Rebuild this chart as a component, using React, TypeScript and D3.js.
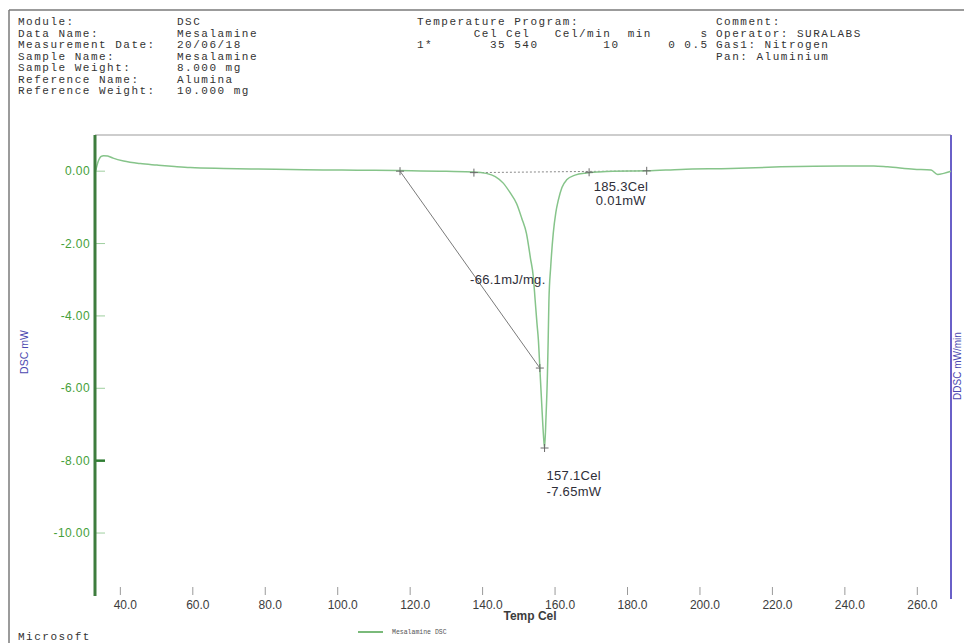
import React from "react";
import * as d3 from "d3";

// ---- Header block ----
const headerLabels = [
  "Module:",
  "Data Name:",
  "Measurement Date:",
  "Sample Name:",
  "Sample Weight:",
  "Reference Name:",
  "Reference Weight:",
];
const headerValues = [
  "DSC",
  "Mesalamine",
  "20/06/18",
  "Mesalamine",
  "8.000 mg",
  "Alumina",
  "10.000 mg",
];
const tempProgramLines = [
  "Temperature Program:",
  "       Cel Cel   Cel/min  min      s",
  "1*       35 540        10      0 0.5",
];
const commentLines = [
  "Comment:",
  "Operator: SURALABS",
  "Gas1: Nitrogen",
  "Pan: Aluminium",
];

// ---- Axes ----
const xDomain: [number, number] = [33.0, 269.3];
const yDomain: [number, number] = [1.0, -11.74];
const xTicks = [40, 60, 80, 100, 120, 140, 160, 180, 200, 220, 240, 260];
const yTicks = [0, -2, -4, -6, -8, -10];

// ---- DSC trace (Temp Cel, mW) ----
const tempCel = [
  33.2, 34.0, 34.6, 35.4, 36.5, 38.0, 40.9, 45.5, 50.1, 55.0, 59.3, 68.5, 78.0,
  87.0, 96.0, 105.4, 116.4, 122.9, 130.0, 137.6, 141.0, 143.5, 145.7, 147.5,
  149.4, 150.8, 152.1, 153.2, 154.0, 154.5, 155.0, 155.4, 155.8, 156.3, 156.8,
  157.1, 157.5, 157.9, 158.1, 158.3, 158.8, 159.5, 160.2, 160.9, 161.9, 163.2,
  165.5, 168.7, 172.0, 176.0, 185.3, 194.7, 208.5, 222.3, 238.9, 248.0, 251.8,
  259.1, 263.8, 265.6, 267.3, 269.3,
];
const dscMw = [
  0.02, 0.3, 0.4, 0.43, 0.42, 0.36, 0.28, 0.21, 0.17, 0.13, 0.1, 0.075, 0.06,
  0.047, 0.035, 0.028, 0.02, 0.005, -0.005, -0.02, -0.06, -0.15, -0.33, -0.58,
  -0.9, -1.3, -1.72, -2.4, -2.92, -3.56, -4.2, -4.67, -5.44, -6.4, -7.3, -7.65,
  -6.8, -5.6, -4.67, -3.6, -2.64, -1.72, -1.15, -0.8, -0.45, -0.24, -0.11,
  -0.05, -0.02, 0.0, 0.01, 0.05, 0.075, 0.12, 0.145, 0.145, 0.12, 0.055, 0.03,
  -0.09, -0.06, 0.0,
];

// ---- Peak analysis ----
const onsetStart = { t: 117.2, v: 0.0 };
const tangentPoint = { t: 155.8, v: -5.44 };
const baselineStart = { t: 137.6, v: -0.04 };
const baselineMid = { t: 169.4, v: -0.03 };
const peak = { t: 157.1, v: -7.65 };
const endPoint = { t: 185.3, v: 0.01 };
const enthalpy = -66.1;

const W = 964;
const H = 643;
const PLOT = { left: 95, right: 951, top: 135, bottom: 596 };

const mono = "'Liberation Mono', 'DejaVu Sans Mono', monospace";
const sans = "'Liberation Sans', Arial, sans-serif";

// plain hyphen-minus, as the instrument software prints it
const fmt = (spec: string) => {
  const f = d3.format(spec);
  return (v: number) => f(v).replace("\u2212", "-");
};
const f1 = fmt(".1f");
const f2 = fmt(".2f");

function Cross({ x, y }: { x: number; y: number }) {
  return (
    <g stroke="#6b6b6b" strokeWidth={1}>
      <line x1={x - 4} x2={x + 4} y1={y} y2={y} />
      <line x1={x} x2={x} y1={y - 4} y2={y + 4} />
    </g>
  );
}

export default function App() {
  const x = d3.scaleLinear().domain(xDomain).range([PLOT.left, PLOT.right]);
  const y = d3.scaleLinear().domain(yDomain).range([PLOT.top, PLOT.bottom]);

  const points = tempCel.map((t, i) => [t, dscMw[i]] as [number, number]);
  const line = d3
    .line<[number, number]>()
    .x((d) => x(d[0]))
    .y((d) => y(d[1]))
    .curve(d3.curveMonotoneX);

  const rowY = (i: number) => 25 + i * 11.5;
  const headerText = {
    fontFamily: mono,
    fontSize: 11,
    letterSpacing: "1.5px",
    fill: "#333",
    whiteSpace: "pre" as const,
  };

  return (
    <svg
      width={W}
      height={H}
      style={{ position: "absolute", left: 0, top: 0, background: "#fff" }}
    >
      <rect x={0} y={0} width={W} height={H} fill="#fff" />

      {/* outer frame */}
      <line x1={9} x2={W} y1={10} y2={10} stroke="#7a7a7a" strokeWidth={1.5} />
      <line x1={9} x2={9} y1={10} y2={H} stroke="#7a7a7a" strokeWidth={1.5} />

      {/* header */}
      {headerLabels.map((s, i) => (
        <text key={"hl" + i} x={18} y={rowY(i)} style={headerText}>
          {s}
        </text>
      ))}
      {headerValues.map((s, i) => (
        <text key={"hv" + i} x={177} y={rowY(i)} style={headerText}>
          {s}
        </text>
      ))}
      {tempProgramLines.map((s, i) => (
        <text key={"tp" + i} x={417} y={rowY(i)} style={headerText}>
          {s}
        </text>
      ))}
      {commentLines.map((s, i) => (
        <text key={"cm" + i} x={716} y={rowY(i)} style={headerText}>
          {s}
        </text>
      ))}

      {/* plot frame */}
      <line
        x1={PLOT.left}
        x2={PLOT.right}
        y1={PLOT.top}
        y2={PLOT.top}
        stroke="#bdbdbd"
        strokeWidth={1.5}
      />
      <line
        x1={PLOT.right}
        x2={PLOT.right}
        y1={PLOT.top}
        y2={PLOT.bottom + 3}
        stroke="#6a60c8"
        strokeWidth={2}
      />

      {/* y axis ticks */}
      {yTicks.map((v) => (
        <g key={"yt" + v}>
          <line
            x1={PLOT.left}
            x2={PLOT.left + 10}
            y1={y(v)}
            y2={y(v)}
            stroke={v === -8 ? "#2f7d32" : "#9fcf9f"}
            strokeWidth={v === -8 ? 2.5 : 1}
          />
          <text
            x={90}
            y={y(v)}
            dy="0.35em"
            textAnchor="end"
            fontFamily={sans}
            fontSize={12}
            letterSpacing="0.4px"
            fill="#46a03a"
          >
            {f2(v)}
          </text>
        </g>
      ))}

      {/* x axis ticks */}
      {xTicks.map((t) => (
        <g key={"xt" + t}>
          <line
            x1={x(t)}
            x2={x(t)}
            y1={587}
            y2={595}
            stroke="#9a9a9a"
            strokeWidth={1}
          />
          <text
            x={x(t) + 5}
            y={605}
            dy="0.35em"
            textAnchor="middle"
            fontFamily={sans}
            fontSize={12}
            fill="#3c3c3c"
          >
            {f1(t)}
          </text>
        </g>
      ))}
      <text
        x={530}
        y={616}
        dy="0.35em"
        textAnchor="middle"
        fontFamily={sans}
        fontSize={12}
        fontWeight="bold"
        fill="#3c3c3c"
      >
        Temp Cel
      </text>

      {/* axis titles */}
      <text
        transform="translate(28,352) rotate(-90)"
        textAnchor="middle"
        fontFamily={sans}
        fontSize={10.5}
        fill="#4b48b0"
      >
        DSC mW
      </text>
      <text
        transform="translate(961,366) rotate(-90)"
        textAnchor="middle"
        fontFamily={sans}
        fontSize={10}
        fill="#4b48b0"
      >
        DDSC mW/min
      </text>

      {/* peak analysis construction */}
      <line
        x1={x(onsetStart.t)}
        y1={y(onsetStart.v)}
        x2={x(tangentPoint.t)}
        y2={y(tangentPoint.v)}
        stroke="#7a7a7a"
        strokeWidth={1}
      />
      <line
        x1={x(baselineStart.t)}
        y1={y(baselineStart.v)}
        x2={x(endPoint.t)}
        y2={y(endPoint.v)}
        stroke="#8a8a8a"
        strokeWidth={1}
        strokeDasharray="2,2"
      />

      {/* DSC trace */}
      <path
        d={line(points) || ""}
        fill="none"
        stroke="#86c48a"
        strokeWidth={1.5}
      />

      {/* left axis */}
      <line
        x1={PLOT.left}
        x2={PLOT.left}
        y1={PLOT.top}
        y2={PLOT.bottom}
        stroke="#3e7d3e"
        strokeWidth={3}
      />

      {/* markers */}
      <Cross x={x(onsetStart.t)} y={y(onsetStart.v)} />
      <Cross x={x(baselineStart.t)} y={y(baselineStart.v)} />
      <Cross x={x(baselineMid.t)} y={y(baselineMid.v)} />
      <Cross x={x(endPoint.t)} y={y(endPoint.v)} />
      <Cross x={x(tangentPoint.t)} y={y(tangentPoint.v)} />
      <Cross x={x(peak.t)} y={y(peak.v)} />

      {/* annotations */}
      <g fontFamily={sans} fontSize={13} fill="#2e2e38" letterSpacing="0.3px">
        <text x={x(endPoint.t) - 53} y={y(endPoint.v) + 16} dy="0.35em">
          {f1(endPoint.t)}Cel
        </text>
        <text x={x(endPoint.t) - 51} y={y(endPoint.v) + 30} dy="0.35em">
          {f2(endPoint.v)}mW
        </text>
        <text x={470} y={279} dy="0.35em">
          {f1(enthalpy)}mJ/mg.
        </text>
        <text x={x(peak.t) + 2} y={y(peak.v) + 27} dy="0.35em">
          {f1(peak.t)}Cel
        </text>
        <text x={x(peak.t) + 2} y={y(peak.v) + 43} dy="0.35em">
          {f2(peak.v)}mW
        </text>
      </g>

      {/* legend */}
      <line x1={358} x2={383} y1={632} y2={632} stroke="#4ea34e" strokeWidth={1.5} />
      <text
        x={392}
        y={632}
        dy="0.35em"
        fontFamily={mono}
        fontSize={6.5}
        fill="#555"
      >
        Mesalamine DSC
      </text>

      <text x={18} y={640} style={headerText}>
        Microsoft
      </text>
    </svg>
  );
}
